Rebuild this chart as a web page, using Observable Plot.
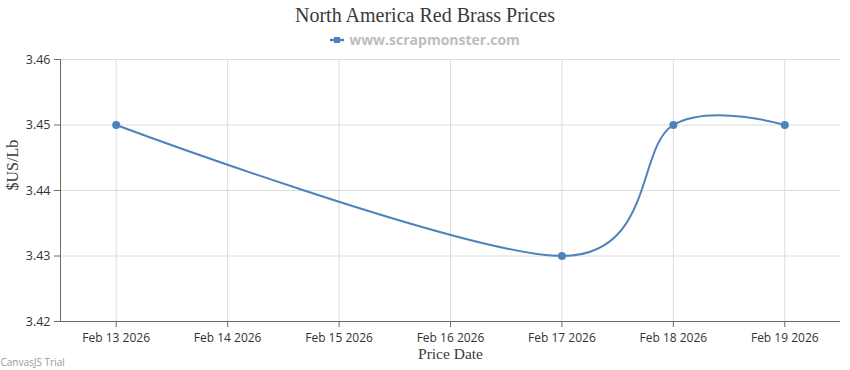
<!DOCTYPE html>
<html>
<head>
<meta charset="utf-8">
<script src="https://cdn.jsdelivr.net/npm/d3@7"></script>
<script src="https://cdn.jsdelivr.net/npm/@observablehq/plot@0.6"></script>
<style>
  html, body { margin: 0; padding: 0; background: #fff; }
  #wrap { width: 850px; height: 370px; overflow: hidden; }
  #title { height: 30px; line-height: 30px; text-align: center; font-family: "Liberation Serif", serif; font-size: 20px; color: #3a3a3a; }
  #legend { height: 20px; line-height: 20px; text-align: center; font-family: "Open Sans", sans-serif; font-weight: bold; font-size: 14px; color: #bdbdbd; }
  #legend svg { vertical-align: middle; margin-right: 5px; position: relative; top: -1px; }
  #chart svg { display: block; }
</style>
</head>
<body>
<div id="wrap">
  <div id="title">North America Red Brass Prices</div>
  <div id="legend"><svg width="14" height="10"><line x1="0" y1="5" x2="14" y2="5" stroke="#4F81BC" stroke-width="2.5"/><rect x="4" y="2" width="6" height="6" fill="#4F81BC"/></svg>www.scrapmonster.com</div>
  <div id="chart"></div>
</div>
<script>
const priceDates = ["2026-02-13", "2026-02-17", "2026-02-18", "2026-02-19"];
const prices = [3.45, 3.43, 3.45, 3.45];
const tickDates = ["2026-02-13", "2026-02-14", "2026-02-15", "2026-02-16", "2026-02-17", "2026-02-18", "2026-02-19"];
const yTicks = [3.42, 3.43, 3.44, 3.45, 3.46];
const xDomain = ["2026-02-12T12:00Z", "2026-02-19T12:00Z"];

const parse = s => new Date(s.length === 10 ? s + "T00:00Z" : s);
const data = priceDates.map((d, i) => ({date: parse(d), price: prices[i]}));
const ticks = tickDates.map(parse);
const fmt = d3.utcFormat("%b %-d %Y");

const lineColor = "#4F81BC";
const gridColor = "#dcdcdc";
const axisColor = "#6b6b6b";
const tickFont = "Open Sans, sans-serif";

const chart = Plot.plot({
  width: 850,
  height: 320,
  marginTop: 9,
  marginBottom: 49,
  marginLeft: 60,
  marginRight: 10,
  style: {fontFamily: tickFont, fontSize: "12px", color: "#333", background: "#fff"},
  x: {type: "utc", domain: xDomain.map(parse)},
  y: {domain: [3.42, 3.46]},
  marks: [
    Plot.gridX(ticks, {stroke: gridColor, strokeOpacity: 1}),
    Plot.gridY(yTicks, {stroke: gridColor, strokeOpacity: 1}),
    Plot.axisX(ticks, {tickFormat: fmt, tickSize: 6, tickPadding: 6, stroke: axisColor, fill: "#333", label: null, fontSize: 12}),
    Plot.axisY(yTicks, {tickFormat: d3.format(".2f"), tickSize: 6, tickPadding: 4, stroke: axisColor, fill: "#333", label: null, fontSize: 12.5}),
    Plot.ruleX([parse(xDomain[0])], {stroke: axisColor}),
    Plot.ruleY([3.42], {stroke: axisColor}),
    Plot.line(data, {x: "date", y: "price", stroke: lineColor, strokeWidth: 2, curve: "cardinal"}),
    Plot.dot(data, {x: "date", y: "price", fill: lineColor, r: 4}),
    Plot.text(["Price Date"], {frameAnchor: "bottom", dy: 37, fontFamily: "Liberation Serif, serif", fontSize: 15.5, fill: "#3a3a3a"}),
    Plot.text(["$US/Lb"], {frameAnchor: "left", dx: -48, rotate: -90, fontFamily: "Liberation Serif, serif", fontSize: 16, fill: "#3a3a3a"}),
    Plot.text(["CanvasJS Trial"], {frameAnchor: "bottom-left", dx: -60, dy: 44, textAnchor: "start", fontFamily: tickFont, fontSize: 10, fill: "#999"})
  ]
});
document.getElementById("chart").appendChild(chart);
</script>
</body>
</html>
